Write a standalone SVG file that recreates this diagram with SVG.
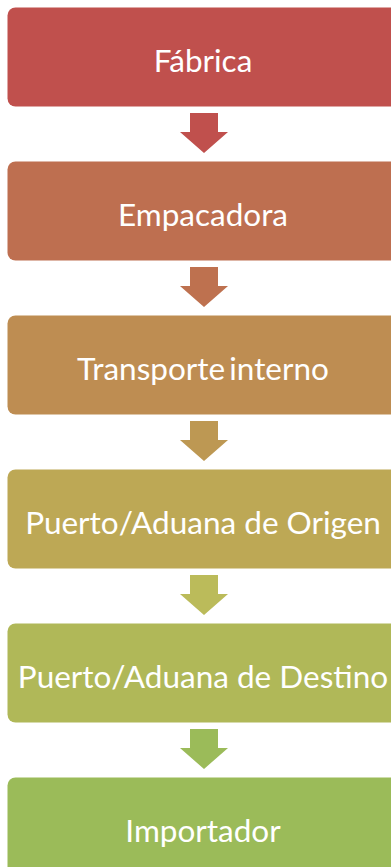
<svg xmlns="http://www.w3.org/2000/svg" width="391" height="867" viewBox="0 0 391 867">
<style>
.box{stroke:none}
.lbl{font-family:Lato,"Liberation Sans",sans-serif;font-size:31.5px;fill:#ffffff;text-anchor:middle}
</style>
<defs>
<path id="arr" d="M190,113 H218 V132 H228 L204,153 L180,132 H190 Z"/>
</defs>
<rect width="391" height="867" fill="#ffffff"/>
<g id="connectors">
<use href="#arr" fill="#C0504D"/>
<use href="#arr" y="154" fill="#BE714F"/>
<use href="#arr" y="308" fill="#BD9853"/>
<use href="#arr" y="462" fill="#BBBB5A"/>
<use href="#arr" y="616" fill="#9BBB59"/>
</g>
<g id="n1"><rect class="box" x="7.5" y="7.5" width="395" height="99" rx="8" fill="#C0504D"/><text class="lbl" x="203" y="72">Fábrica</text></g>
<g id="n2"><rect class="box" x="7.5" y="161.5" width="395" height="99" rx="8" fill="#BE6F50"/><text class="lbl" x="203" y="226">Empacadora</text></g>
<g id="n3"><rect class="box" x="7.5" y="315.5" width="395" height="99" rx="8" fill="#BE8D52"/><text class="lbl" x="203" y="380" word-spacing="-4">Transporte interno</text></g>
<g id="n4"><rect class="box" x="7.5" y="469.5" width="395" height="99" rx="8" fill="#BDA855"/><text class="lbl" x="203" y="534">Puerto/Aduana de Origen</text></g>
<g id="n5"><rect class="box" x="7.5" y="623.5" width="395" height="99" rx="8" fill="#B0B858"/><text class="lbl" x="203" y="688">Puerto/Aduana de Destino</text></g>
<g id="n6"><rect class="box" x="7.5" y="777.5" width="395" height="99" rx="8" fill="#9BBB59"/><text class="lbl" x="203" y="842">Importador</text></g>
</svg>
